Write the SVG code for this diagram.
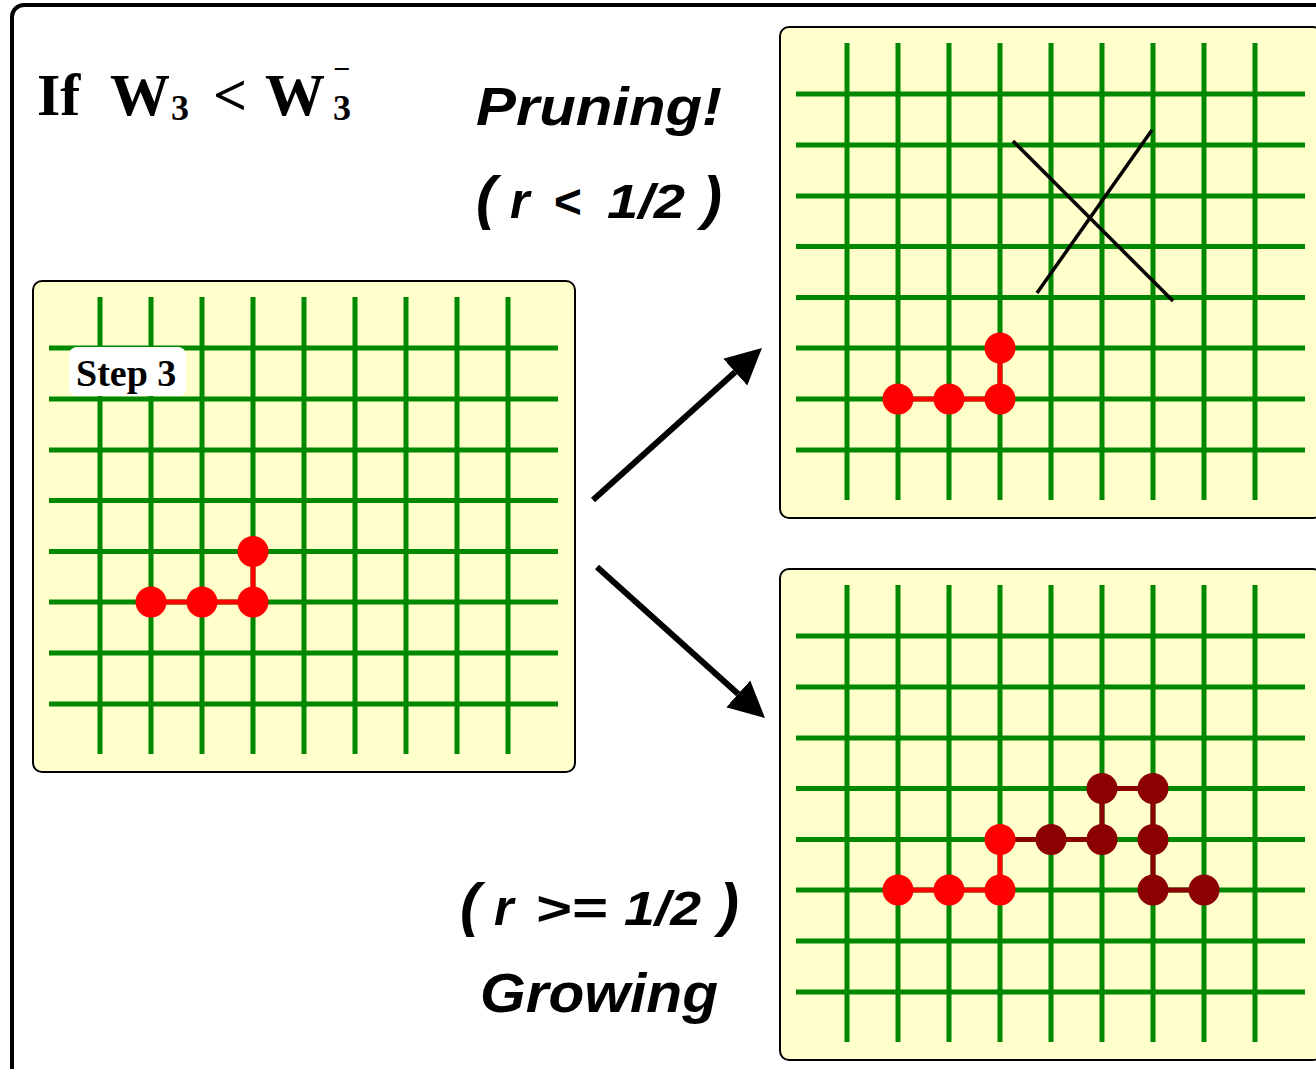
<svg xmlns="http://www.w3.org/2000/svg" xmlns:xlink="http://www.w3.org/1999/xlink" width="1316" height="1069" viewBox="0 0 1316 1069">
<style>
.panel{fill:#FFFFCC;stroke:#000;stroke-width:2}
.grid line{stroke:#008800;stroke-width:5}
.serif{font-family:"Liberation Serif","Times New Roman",serif;font-weight:bold;fill:#000}
.sans{font-family:"Liberation Sans",Arial,sans-serif;font-weight:bold;font-style:italic;fill:#000}
.red{fill:#FF0000}
.dred{fill:#8B0000}
.redl{stroke:#FF0000;stroke-width:5}
.dredl{stroke:#8B0000;stroke-width:5}
.arrow{stroke:#000;stroke-width:6;marker-end:url(#ah)}
.cross{stroke:#000;stroke-width:3.5}
</style>
<defs>
<marker id="ah" viewBox="0 0 10 10" markerWidth="6" markerHeight="6" refX="0" refY="5" orient="auto" markerUnits="strokeWidth">
<path d="M0,0 L10,5 L0,10 z" fill="#000"/>
</marker>
<g id="board">
<rect class="panel" x="0" y="0" width="542" height="491" rx="9"/>
<g class="grid">
<line x1="67" y1="16" x2="67" y2="473"/>
<line x1="118" y1="16" x2="118" y2="473"/>
<line x1="169" y1="16" x2="169" y2="473"/>
<line x1="220" y1="16" x2="220" y2="473"/>
<line x1="271" y1="16" x2="271" y2="473"/>
<line x1="322" y1="16" x2="322" y2="473"/>
<line x1="373" y1="16" x2="373" y2="473"/>
<line x1="424" y1="16" x2="424" y2="473"/>
<line x1="475" y1="16" x2="475" y2="473"/>
<line x1="16" y1="67" x2="525" y2="67"/>
<line x1="16" y1="118" x2="525" y2="118"/>
<line x1="16" y1="169" x2="525" y2="169"/>
<line x1="16" y1="219.5" x2="525" y2="219.5"/>
<line x1="16" y1="270.5" x2="525" y2="270.5"/>
<line x1="16" y1="321" x2="525" y2="321"/>
<line x1="16" y1="372" x2="525" y2="372"/>
<line x1="16" y1="423" x2="525" y2="423"/>
</g>
</g>
</defs>
<rect x="12" y="5" width="1400" height="1100" rx="12" fill="#fff" stroke="#000" stroke-width="4"/>

<g id="title">
<text class="serif" x="37" y="115" font-size="60">If</text>
<text class="serif" x="110" y="115" font-size="60">W</text>
<text class="serif" x="171" y="120" font-size="36">3</text>
<text class="serif" x="213" y="115" font-size="60">&lt;</text>
<text class="serif" x="265" y="115" font-size="60">W</text>
<text class="serif" x="333" y="120" font-size="36">3</text>
<text class="serif" x="333" y="79" font-size="30">−</text>
</g>

<g id="label-pruning">
<text class="sans" x="476" y="125" font-size="53" textLength="246" lengthAdjust="spacingAndGlyphs">Pruning!</text>
<text class="sans" x="476" y="218" font-size="60">(</text>
<text class="sans" x="510" y="218" font-size="50">r</text>
<text class="sans" x="553" y="218" font-size="48">&lt;</text>
<text class="sans" x="607" y="218" font-size="48" textLength="78" lengthAdjust="spacingAndGlyphs">1/2</text>
<text class="sans" x="702" y="218" font-size="60">)</text>
</g>

<g id="label-growing">
<text class="sans" x="460" y="925" font-size="60">(</text>
<text class="sans" x="494" y="925" font-size="50">r</text>
<text class="sans" x="535" y="925" font-size="48" textLength="72" lengthAdjust="spacingAndGlyphs">&gt;=</text>
<text class="sans" x="624" y="925" font-size="48" textLength="77" lengthAdjust="spacingAndGlyphs">1/2</text>
<text class="sans" x="719" y="925" font-size="60">)</text>
<text class="sans" x="480" y="1012" font-size="55" textLength="238" lengthAdjust="spacingAndGlyphs">Growing</text>
</g>

<g id="step3" transform="translate(33,281)">
<use xlink:href="#board"/>
<rect x="36" y="66" width="117" height="49" rx="8" fill="#fff"/>
<text class="serif" x="43" y="105" font-size="38">Step 3</text>
<line class="redl" x1="118" y1="321" x2="220" y2="321"/>
<line class="redl" x1="220" y1="321" x2="220" y2="270.5"/>
<circle class="red" cx="118" cy="321" r="15.5"/>
<circle class="red" cx="169" cy="321" r="15.5"/>
<circle class="red" cx="220" cy="321" r="15.5"/>
<circle class="red" cx="220" cy="270.5" r="15.5"/>
</g>

<g id="pruned" transform="translate(780,27)">
<use xlink:href="#board"/>
<line class="redl" x1="118" y1="372" x2="220" y2="372"/>
<line class="redl" x1="220" y1="372" x2="220" y2="321"/>
<circle class="red" cx="118" cy="372" r="15.5"/>
<circle class="red" cx="169" cy="372" r="15.5"/>
<circle class="red" cx="220" cy="372" r="15.5"/>
<circle class="red" cx="220" cy="321" r="15.5"/>
<line class="cross" x1="233" y1="114" x2="393" y2="274"/>
<line class="cross" x1="372" y1="103" x2="257" y2="266"/>
</g>

<g id="grown" transform="translate(780,569)">
<use xlink:href="#board"/>
<line class="dredl" x1="220" y1="270.5" x2="322" y2="270.5"/>
<line class="dredl" x1="322" y1="270.5" x2="322" y2="219.5"/>
<line class="dredl" x1="322" y1="219.5" x2="373" y2="219.5"/>
<line class="dredl" x1="373" y1="219.5" x2="373" y2="321"/>
<line class="dredl" x1="373" y1="321" x2="424" y2="321"/>
<line class="redl" x1="118" y1="321" x2="220" y2="321"/>
<line class="redl" x1="220" y1="321" x2="220" y2="270.5"/>
<circle class="red" cx="118" cy="321" r="15.5"/>
<circle class="red" cx="169" cy="321" r="15.5"/>
<circle class="red" cx="220" cy="321" r="15.5"/>
<circle class="red" cx="220" cy="270.5" r="15.5"/>
<circle class="dred" cx="271" cy="270.5" r="15.5"/>
<circle class="dred" cx="322" cy="270.5" r="15.5"/>
<circle class="dred" cx="322" cy="219.5" r="15.5"/>
<circle class="dred" cx="373" cy="219.5" r="15.5"/>
<circle class="dred" cx="373" cy="270.5" r="15.5"/>
<circle class="dred" cx="373" cy="321" r="15.5"/>
<circle class="dred" cx="424" cy="321" r="15.5"/>
</g>

<g id="connectors">
<line class="arrow" x1="593" y1="500" x2="735.2" y2="372.1"/>
<line class="arrow" x1="597" y1="567" x2="738.2" y2="693.9"/>
</g>
</svg>
